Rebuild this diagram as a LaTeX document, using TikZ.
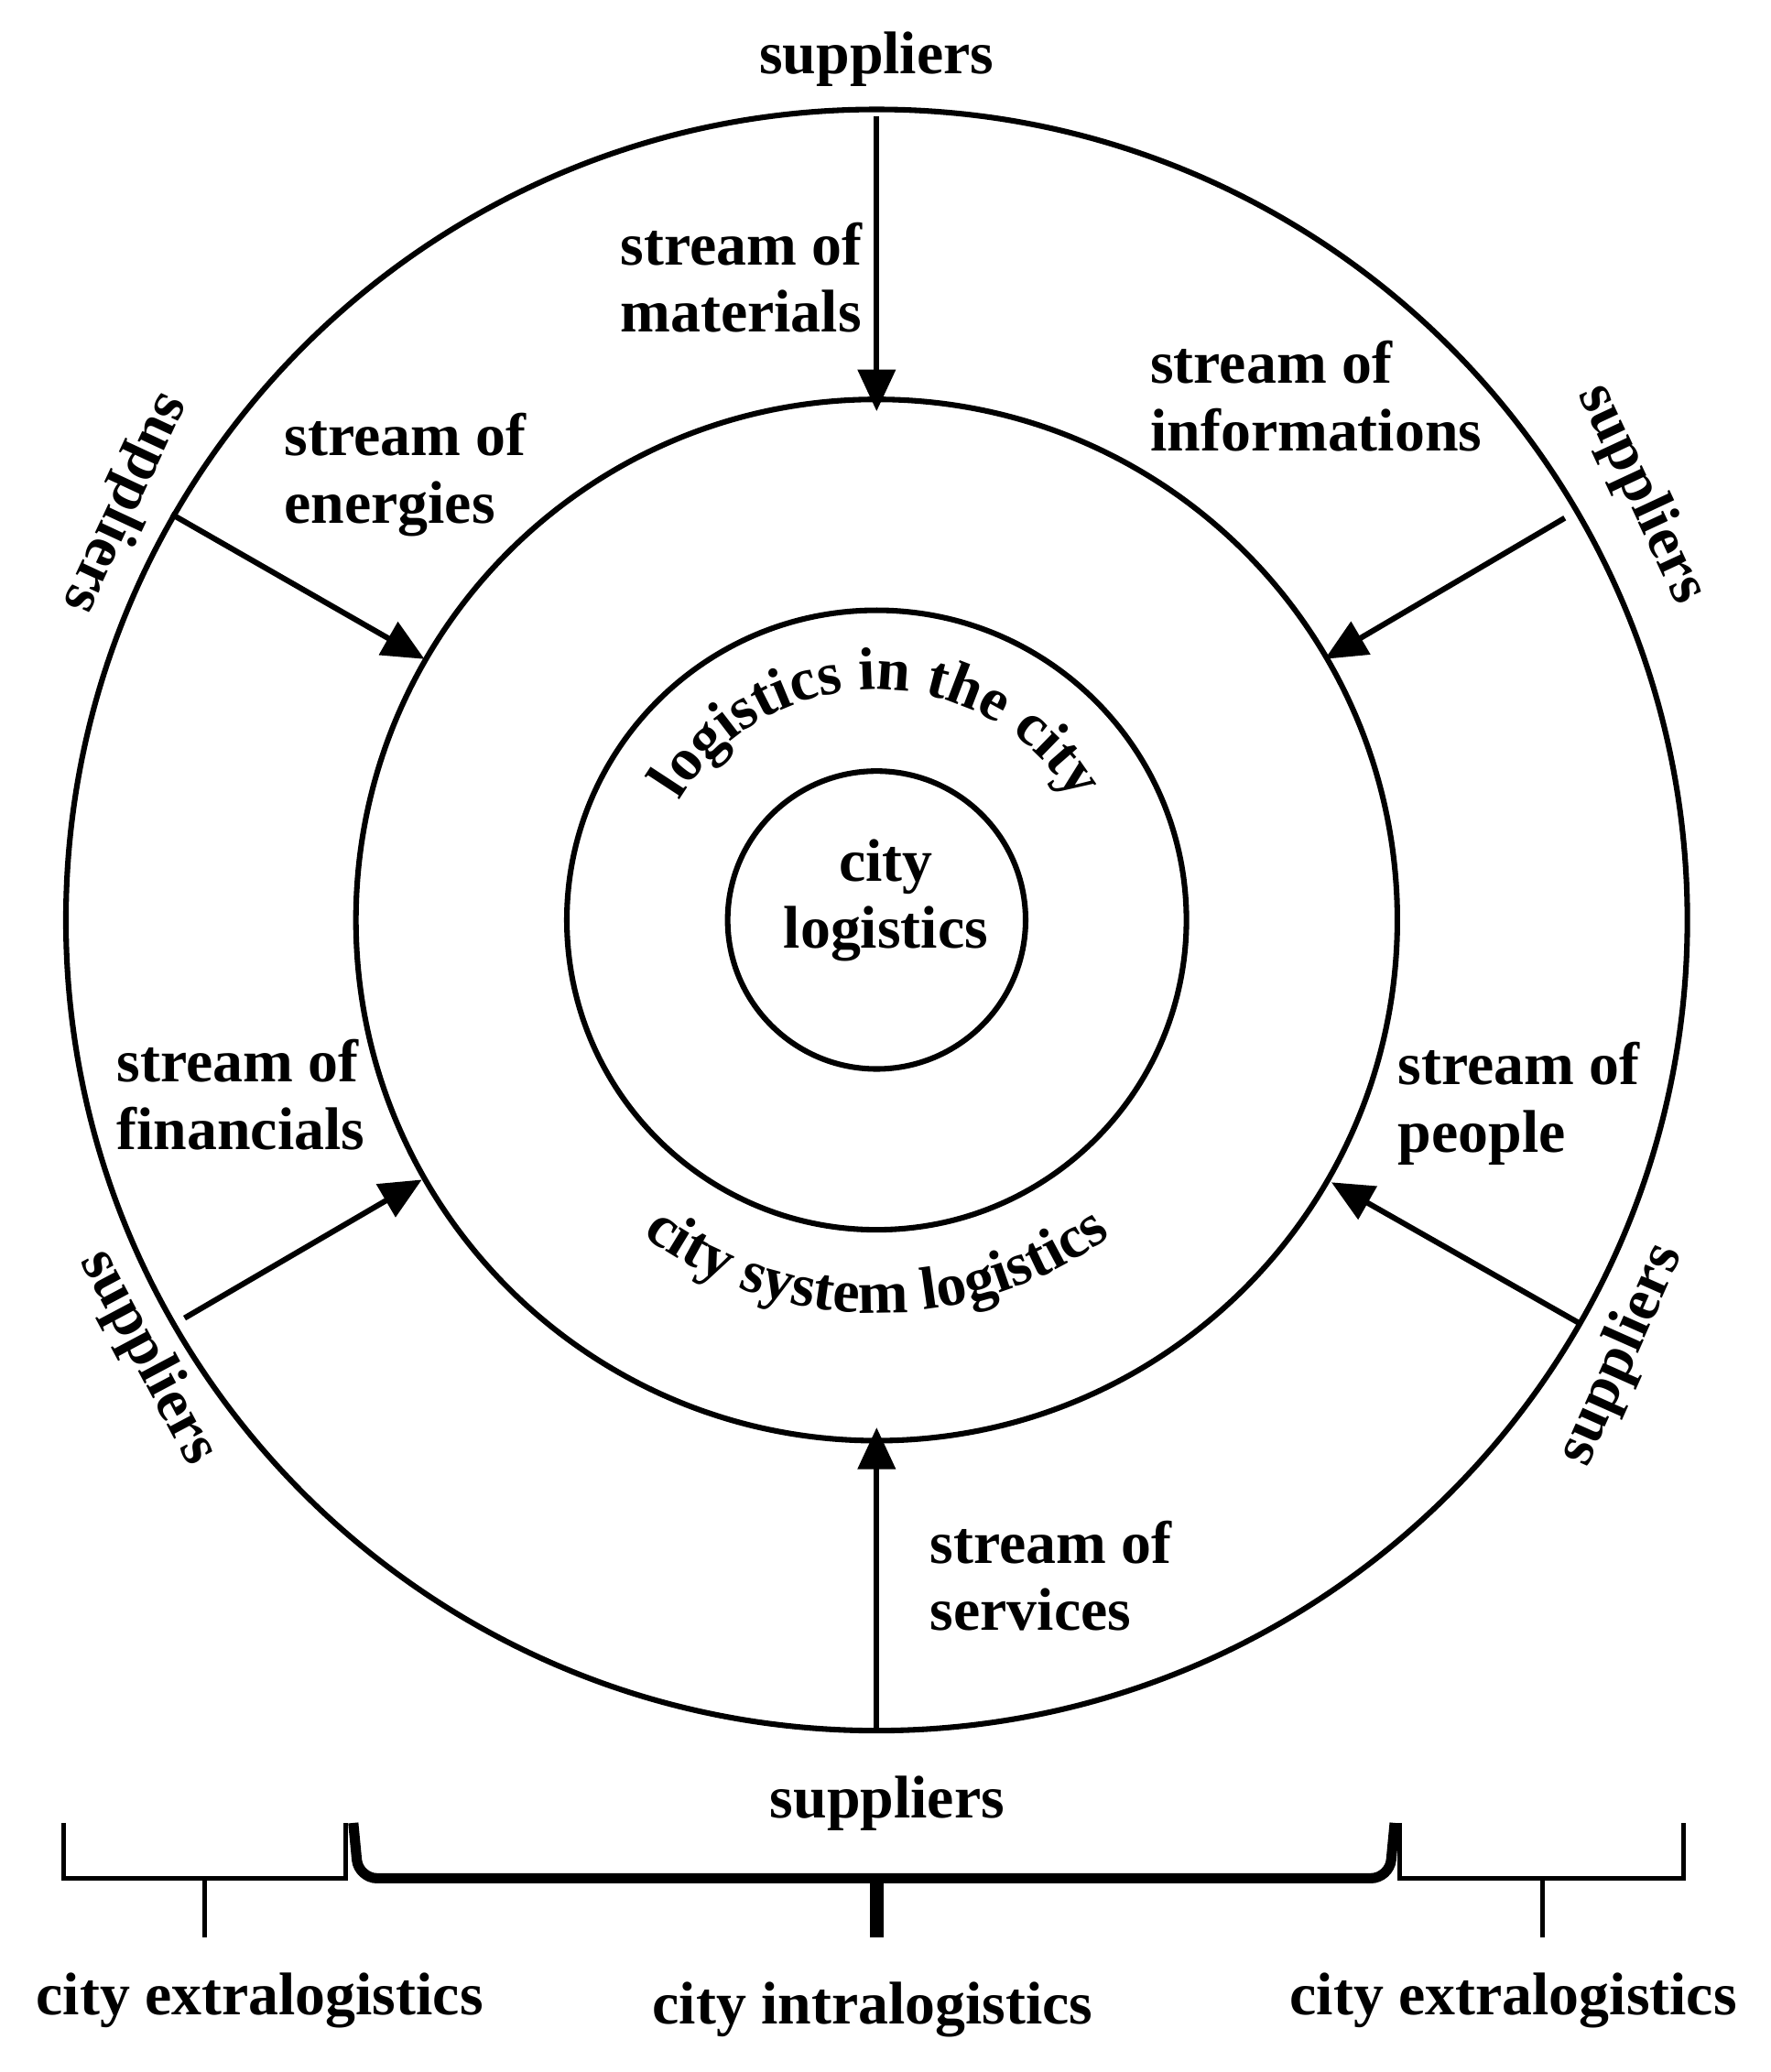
\documentclass[tikz,border=0pt]{standalone}
\usepackage{fontspec}
\setmainfont{Liberation Serif}
\usetikzlibrary{arrows.meta,decorations.text}
\begin{document}
\begin{tikzpicture}[x=0.01cm,y=-0.01cm,
  ring/.style={line width=1.2pt},
  flow/.style={line width=1.2pt,-{Triangle[length=9pt,width=8pt]}},
  lbl/.style={font=\bfseries\fontsize{13}{14.5}\selectfont,align=left,inner sep=0},
  brace/.style={line width=1pt}]
\useasboundingbox (0,0) rectangle (1343,1572);
\coordinate (c) at (665,698);
\draw[ring] (c) circle[radius=615];
\draw[ring] (c) circle[radius=395];
\draw[ring] (c) circle[radius=235];
\draw[ring] (c) circle[radius=113];
% arrows
\coordinate (t1) at (665,88); \coordinate (t2) at (665,312);
\coordinate (b1) at (665,1312); \coordinate (b2) at (665,1083);
\coordinate (ul1) at (130,390); \coordinate (ul2) at (322,500);
\coordinate (ur1) at (1187,393); \coordinate (ur2) at (1005,500);
\coordinate (ll1) at (140,1000); \coordinate (ll2) at (320,895);
\coordinate (lr1) at (1200,1005); \coordinate (lr2) at (1010,897);
\draw[flow] (t1) -- (t2);
\draw[flow] (b1) -- (b2);
\draw[flow] (ul1) -- (ul2);
\draw[flow] (ur1) -- (ur2);
\draw[flow] (ll1) -- (ll2);
\draw[flow] (lr1) -- (lr2);
% labels
\node[lbl,anchor=north west] (m) at (470,168) {stream of\\materials};
\node[lbl,anchor=north west] (i) at (872,258) {stream of\\informations};
\node[lbl,anchor=north west] (e) at (215,313) {stream of\\energies};
\node[lbl,anchor=north west] (f) at (88,788) {stream of\\financials};
\node[lbl,anchor=north west] (p) at (1060,790) {stream of\\people};
\node[lbl,anchor=north west] (s) at (705,1153) {stream of\\services};
\node[lbl,align=center] (cl) at (672,683) {city\\logistics};
\node[lbl] (st) at (665,45) {suppliers};
\node[lbl] (sb) at (673,1368) {suppliers};
\node[lbl,rotate=-115] (sul) at (95,382) {suppliers};
\node[lbl,rotate=-65] (sur) at (1245,375) {suppliers};
\node[lbl,rotate=-62] (sll) at (112,1030) {suppliers};
\node[lbl,rotate=66] (slr) at (1230,1028) {suppliers};
% curved texts
\path[postaction={decorate},decoration={text along path,text align=center,
  text={|\bfseries\fontsize{13}{15}\selectfont|logistics in the city}}]
  (500.6,758) arc[start angle=160,end angle=380,radius=175];
\path[postaction={decorate},decoration={text along path,text align=center,
  text={|\bfseries\fontsize{13}{15}\selectfont|city system logistics}}]
  (407,847) arc[start angle=150,end angle=30,radius=298];
% braces
\draw[brace] (48,1383) -- (48,1425) -- (262,1425) -- (262,1383);
\draw[brace] (155,1425) -- (155,1470);
\draw[brace,line width=2.2pt,rounded corners=4pt] (268,1383) -- (272,1425) -- (1054,1425) -- (1058,1383);
\draw[brace,line width=3pt] (665,1425) -- (665,1470);
\draw[brace] (1062,1383) -- (1062,1425) -- (1277,1425) -- (1277,1383);
\draw[brace] (1170,1425) -- (1170,1470);
\node[lbl] (ex1) at (197,1518) {city extralogistics};
\node[lbl] (in) at (662,1525) {city intralogistics};
\node[lbl] (ex2) at (1148,1518) {city extralogistics};
\end{tikzpicture}
\end{document}
